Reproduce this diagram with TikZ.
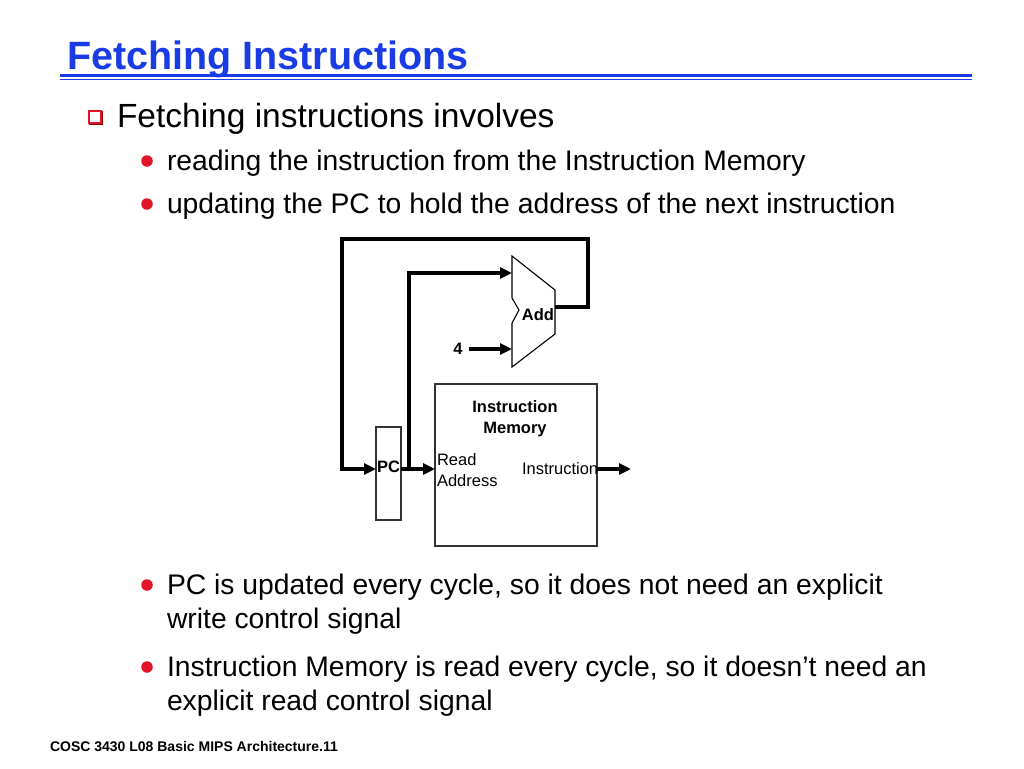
\documentclass[tikz,border=0pt]{standalone}
\usepackage{fontspec}
\setmainfont{Liberation Sans}
\usetikzlibrary{arrows.meta}
\definecolor{titleblue}{RGB}{25,60,228}
\definecolor{bulletred}{RGB}{225,20,40}

\begin{document}
\begin{tikzpicture}[x=1pt,y=-1pt,
  every node/.style={inner sep=0pt,outer sep=0pt},
  txt/.style={anchor=base west,font=\fontsize{28.3}{34}\selectfont},
  bigtxt/.style={anchor=base west,font=\fontsize{33.5}{40}\selectfont},
  lbl/.style={font=\fontsize{16.5}{21}\selectfont},
  blbl/.style={font=\bfseries\fontsize{16.5}{21}\selectfont},
  subbullet/.style={circle,fill=bulletred,minimum size=11.5pt},
  box/.style={draw=black!80,line width=1.4pt,rectangle},
  wire/.style={line width=3.5pt},
  >={Triangle[length=12pt,width=11pt]}]
\useasboundingbox[fill=white] (0,0) rectangle (1024,768);
% title and rule
\node[anchor=base west,text=titleblue,font=\bfseries\fontsize{39.5}{44}\selectfont] (title) at (67,69) {Fetching Instructions};
\draw[titleblue,line width=3pt] (60,75) -- (972,75);
\draw[titleblue,line width=1.2pt] (60,79.5) -- (972,79.5);
% bullets
\node[draw=red!55!black,line width=1.8pt,minimum size=12pt] (b0s) at (96,118) {};
\node[draw=bulletred,fill=white,line width=1.8pt,minimum size=12pt] (b0) at (95,117) {};
\node[bigtxt] (t0) at (117,127) {Fetching instructions involves};
\node[subbullet] (b1) at (147,161) {};
\node[txt] (t1) at (167,170) {reading the instruction from the Instruction Memory};
\node[subbullet] (b2) at (147,204) {};
\node[txt] (t2) at (167,213) {updating the PC to hold the address of the next instruction};
\node[subbullet] (b3) at (147,585) {};
\node[txt] (t3) at (167,594) {PC is updated every cycle, so it does not need an explicit};
\node[txt] (t3b) at (167,628) {write control signal};
\node[subbullet] (b4) at (147,667) {};
\node[txt] (t4) at (167,676) {Instruction Memory is read every cycle, so it doesn’t need an};
\node[txt] (t4b) at (167,710) {explicit read control signal};
\node[anchor=base west,font=\bfseries\fontsize{14}{16}\selectfont] (foot) at (50,751) {COSC 3430 L08 Basic MIPS Architecture.11};
% datapath
\draw[line width=1.1pt] (512,256) -- (555,290) -- (555,334) -- (512,367) -- (512,323) -- (519,310) -- (512,298) -- cycle;
\coordinate (addA) at (512,273);
\coordinate (addB) at (512,349);
\coordinate (addout) at (555,307);
\node[blbl] (addlbl) at (538,315) {Add};
\node[blbl] (four) at (458,349) {4};
\node[box,minimum width=25pt,minimum height=93pt] (pc) at (388.5,473.5) {};
\node[blbl] (pclbl) at (388.5,467) {PC};
\node[box,minimum width=162pt,minimum height=162pt] (imem) at (516,465) {};
\node[blbl,align=center] (imemlbl) at (515,418.5) {Instruction\\Memory};
\node[lbl,align=left,anchor=west] (rdaddr) at (437,470) {Read\\Address};
\node[lbl,anchor=west] (instlbl) at (522,469) {Instruction};
\coordinate (fork) at (409,469);
\coordinate (loopR) at (588,239);
\coordinate (loopL) at (342,239);
\coordinate (instout) at (631,469);
\draw[wire,->] (addout) -| (loopR) -- (loopL) |- (pc.west |- fork);
\draw[wire,->] (pc.east |- fork) -- (imem.west |- fork);
\draw[wire,->] (fork) |- (addA);
\draw[wire,->,shorten <=6pt] (four.east) -- (addB);
\draw[wire,->] (imem.east |- fork) -- (instout);
\end{tikzpicture}
\end{document}
